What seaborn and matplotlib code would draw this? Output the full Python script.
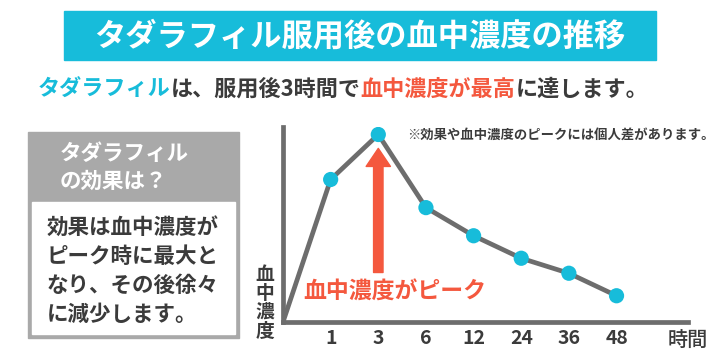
import numpy as np
import pandas as pd
import seaborn as sns
import matplotlib.pyplot as plt
from matplotlib.patches import Rectangle

# chart data (relative blood concentration)
hours = [0, 1, 3, 6, 12, 24, 36, 48]
concentration = [0, 76, 100, 61, 46, 34, 26, 14]

title = "タダラフィル服用後の血中濃度の推移"
subtitle_parts = ["タダラフィル", "は、服用後3時間で", "血中濃度が最高", "に達します。"]
box_header = ["タダラフィル", "の効果は？"]
box_lines = ["効果は血中濃度が", "ピーク時に最大と", "なり、その後徐々", "に減少します。"]
note = "※効果や血中濃度のピークには個人差があります。"
peak_label = "血中濃度がピーク"
y_label = "血中濃度"
x_label = "時間"

CYAN = "#17bcda"
RED = "#f4583e"
DARK = "#3b3b3b"
GRAY = "#6d6d6d"

sns.set_theme(style="white")
plt.rcParams["font.family"] = ["Noto Sans CJK JP", "DejaVu Sans"]

W, H = 720, 360
fig = plt.figure(figsize=(7.2, 3.6), dpi=100)
fig.patch.set_facecolor("white")


def fx(px):
    return px / W


def fy(py):
    return 1 - py / H


# title banner
fig.patches.append(Rectangle((fx(64), fy(60)), fx(656) - fx(64), fy(11) - fy(60),
                             transform=fig.transFigure, color=CYAN, zorder=0))
fig.text(fx(360), fy(36), title, color="white", fontsize=22.5, fontweight="bold",
         ha="center", va="center")

# subtitle with coloured pieces, placed one after another
renderer = fig.canvas.get_renderer()
sub_colors = [CYAN, DARK, RED, DARK]
x0 = fx(38)
for part, col in zip(subtitle_parts, sub_colors):
    t = fig.text(x0, fy(89), part, color=col, fontsize=15.9, fontweight="bold",
                 ha="left", va="center")
    bb = t.get_window_extent(renderer=renderer)
    x0 = bb.x1 / fig.bbox.width

# left info box
fig.patches.append(Rectangle((fx(28), fy(338)), fx(239) - fx(28), fy(132) - fy(338),
                             transform=fig.transFigure, color="#a9a9a9", zorder=0))
fig.patches.append(Rectangle((fx(32), fy(334)), fx(235) - fx(32), fy(202) - fy(334),
                             transform=fig.transFigure, color="white", zorder=1))
for i, line in enumerate(box_header):
    fig.text(fx(60), fy(153 + 28 * i), line, color="white", fontsize=15.5,
             fontweight="bold", ha="left", va="center")
for i, line in enumerate(box_lines):
    fig.text(fx(47), fy(227 + 29.3 * i), line, color=DARK, fontsize=15.5,
             fontweight="bold", ha="left", va="center", zorder=2)

# chart
df = pd.DataFrame({"pos": np.arange(len(hours)), "hours": hours, "conc": concentration})
ax = fig.add_axes([fx(283), fy(322), fx(688) - fx(283), fy(127) - fy(322)])
ax.set_facecolor("none")
sns.lineplot(data=df, x="pos", y="conc", color=GRAY, linewidth=3.4, ax=ax, zorder=2)
sns.scatterplot(data=df.iloc[1:], x="pos", y="conc", color=CYAN, s=120,
                edgecolor="none", ax=ax, zorder=3)
ax.set_xlim(0, 8.5)
ax.set_ylim(0, 104)
sns.despine(ax=ax)
for side in ["left", "bottom"]:
    ax.spines[side].set_color(GRAY)
    ax.spines[side].set_linewidth(3.4)
ax.set_yticks([])
ax.set_xticks(df["pos"].iloc[1:])
ax.set_xticklabels([str(h) for h in hours[1:]], fontsize=14, fontweight="bold", color=DARK)
ax.tick_params(axis="x", length=0, pad=5)
ax.set_xlabel("")
ax.set_ylabel("")

# arrow pointing at the peak
pk = df["conc"].idxmax()
ax.annotate("", xy=(df["pos"][pk], df["conc"][pk]), xycoords="data",
            xytext=(0, -138), textcoords="offset pixels",
            arrowprops=dict(arrowstyle="simple,head_length=1.3,head_width=1.75,tail_width=0.68",
                            color=RED, mutation_scale=10, shrinkA=0, shrinkB=10))
fig.text(fx(395), fy(292), peak_label, color=RED, fontsize=16.5, fontweight="bold",
         ha="center", va="center")

fig.text(fx(407), fy(135), note, color=DARK, fontsize=9.6, fontweight="bold",
         ha="left", va="center")
fig.text(fx(688), fy(340), x_label, color=DARK, fontsize=14.5, fontweight="medium",
         ha="center", va="center")
fig.text(fx(265), fy(303), "\n".join(y_label), color=DARK, fontsize=13.5,
         fontweight="bold", ha="center", va="center", linespacing=1.0)

fig.savefig("out.png", dpi=100, facecolor="white")
